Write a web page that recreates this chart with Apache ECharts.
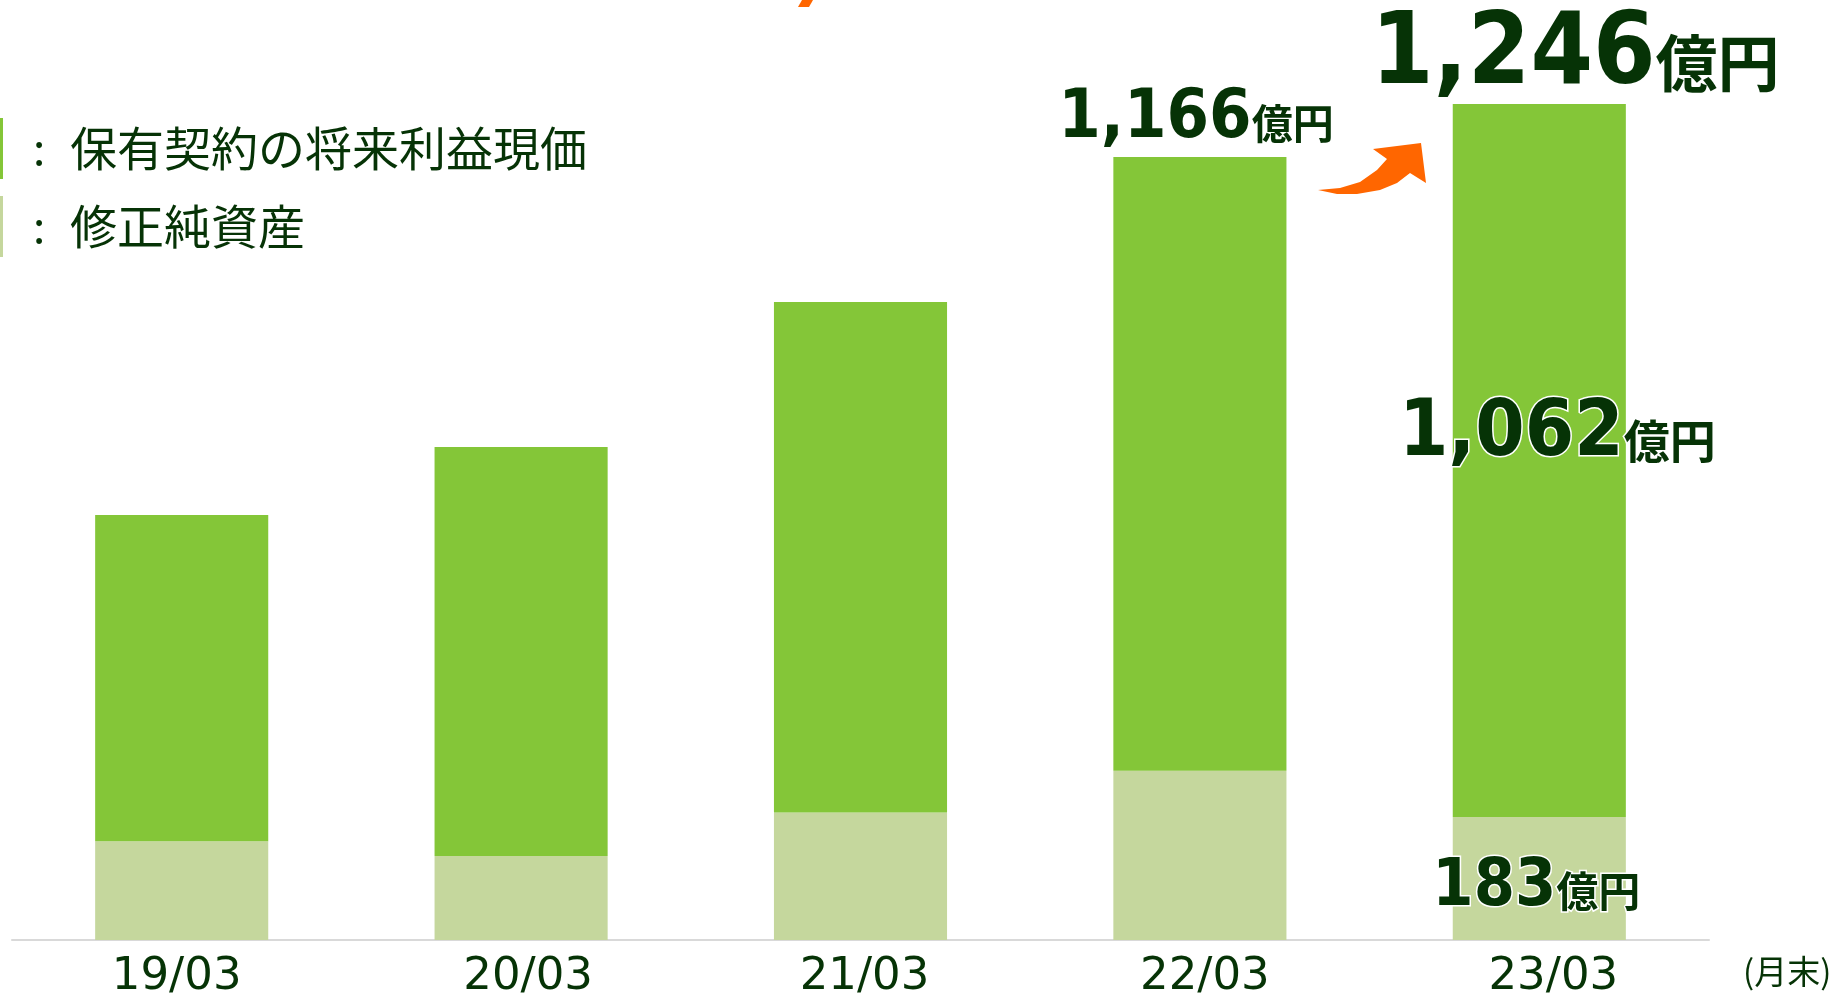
<!DOCTYPE html>
<html>
<head>
<meta charset="utf-8">
<title>EV chart</title>
<script src="https://cdn.jsdelivr.net/npm/echarts@6/dist/echarts.min.js"></script>
<style>
  html, body { margin: 0; padding: 0; background: #fff; }
  #main { width: 1838px; height: 996px; }
</style>
</head>
<body>
<div id="main"></div>
<script>
// データ（億円）
const categories = ['19/03', '20/03', '21/03', '22/03', '23/03']
const netAssets = [147, 125, 190, 252, 183]      // 修正純資産
const vif = [486, 609, 760, 914, 1062]           // 保有契約の将来利益現価
const totals = [633, 734, 950, 1166, 1246]       // 合計（EV）
const seriesNames = ['保有契約の将来利益現価', '修正純資産']

const textColor = '#063306'
const numFont = 'DejaVu Sans Condensed'
const jpFont = 'Noto Sans CJK JP'

const fmt = v => v.toLocaleString('en-US')

// 億円付きのラベル
function richLabel(numSize, unitSize) {
  return {
    n: { fontFamily: numFont, fontWeight: 'bold', fontSize: numSize, color: textColor,
         textBorderColor: '#fff', textBorderWidth: 3, verticalAlign: 'bottom' },
    u: { fontFamily: jpFont, fontWeight: 'bold', fontSize: unitSize, color: textColor,
         textBorderColor: '#fff', textBorderWidth: 3, verticalAlign: 'bottom',
         padding: [0, 0, 2 + Math.round(numSize * 0.11), 0] }
  }
}

// 軸ラベルの微調整（元資料のずれに合わせる）
const tickShift = [-5, 7, 4, 5, 14]
const tickRich = {}
tickShift.forEach((s, i) => {
  tickRich['p' + i] = {
    fontFamily: 'DejaVu Sans', fontSize: 45, color: textColor,
    padding: s >= 0 ? [0, 0, 0, 2 * s] : [0, -2 * s, 0, 0]
  }
})

const chart = echarts.init(document.getElementById('main'))

chart.setOption({
  animation: false,
  legend: {
    orient: 'vertical',
    left: 0,
    top: 118,
    padding: 0,
    itemWidth: 3,
    itemHeight: 61,
    itemGap: 17,
    icon: 'rect',
    selectedMode: false,
    data: seriesNames,
    formatter: name => '{c|:}{n|' + name + '}',
    textStyle: {
      rich: {
        c: { width: 62, align: 'center', fontSize: 44, fontFamily: jpFont, color: textColor },
        n: { fontSize: 47, fontFamily: jpFont, color: textColor }
      }
    }
  },
  grid: { left: 12, right: 129, top: 67, bottom: 56, outerBoundsMode: 'none', containLabel: false },
  xAxis: {
    type: 'category',
    data: categories,
    axisLine: { lineStyle: { color: '#d9d9d9', width: 2 } },
    axisTick: { show: false },
    axisLabel: {
      fontFamily: 'DejaVu Sans', fontSize: 45, color: textColor, margin: 15,
      formatter: (value, index) => '{p' + index + '|' + value + '}',
      rich: tickRich
    },
    name: '(月末)',
    nameLocation: 'end',
    nameGap: 34,
    nameTextStyle: { fontFamily: jpFont, fontSize: 33, color: textColor, verticalAlign: 'top', padding: [15, 0, 0, 0] }
  },
  yAxis: {
    type: 'value',
    min: 0,
    max: 1300,
    show: false,
    splitLine: { show: false }
  },
  series: [
    {
      name: seriesNames[1],
      type: 'bar',
      stack: 'ev',
      barWidth: '51%',
      itemStyle: { color: '#c5d79d' },
      data: netAssets.map((v, i) => i === 4 ? {
        value: v,
        label: {
          show: true, position: 'inside', offset: [-3, 9],
          formatter: '{n|' + fmt(v) + '}{u|億円}',
          rich: richLabel(66, 42)
        }
      } : v)
    },
    {
      name: seriesNames[0],
      type: 'bar',
      stack: 'ev',
      barWidth: '51%',
      itemStyle: { color: '#84c638' },
      data: vif.map((v, i) => i === 4 ? {
        value: v,
        label: {
          show: true, position: 'inside', offset: [18, -26],
          formatter: '{n|' + fmt(v) + '}{u|億円}',
          rich: richLabel(79, 46)
        }
      } : v)
    },
    {
      // 合計ラベル用（透明）
      name: 'total',
      type: 'bar',
      barWidth: '51%',
      barGap: '-100%',
      silent: true,
      z: 1,
      itemStyle: { color: 'rgba(0,0,0,0)' },
      data: totals.map((v, i) => {
        if (i === 3) {
          return { value: v, label: { show: true, position: 'top', distance: 4, offset: [-4, 0],
            formatter: '{n|' + fmt(v) + '}{u|億円}', rich: richLabel(68, 41) } }
        }
        if (i === 4) {
          return { value: v, label: { show: true, position: 'top', distance: -4, offset: [36, 0],
            formatter: '{n|' + fmt(v) + '}{u|億円}', rich: richLabel(100, 62) } }
        }
        return v
      })
    }
  ],
  graphic: [
    {
      // 22/03 → 23/03 の矢印
      type: 'polygon',
      shape: {
        points: [
          [1318, 190], [1340, 188], [1360, 182], [1377, 170], [1387, 159],
          [1373, 149], [1421, 143], [1426, 183], [1410, 173],
          [1397, 183], [1380, 190], [1357, 194], [1337, 194]
        ]
      },
      style: { fill: '#ff6600' }
    },
    {
      type: 'polygon',
      shape: { points: [[798, 7], [809, 7], [813, 0], [802, 0]] },
      style: { fill: '#ff6600' }
    }
  ]
})
</script>
</body>
</html>
